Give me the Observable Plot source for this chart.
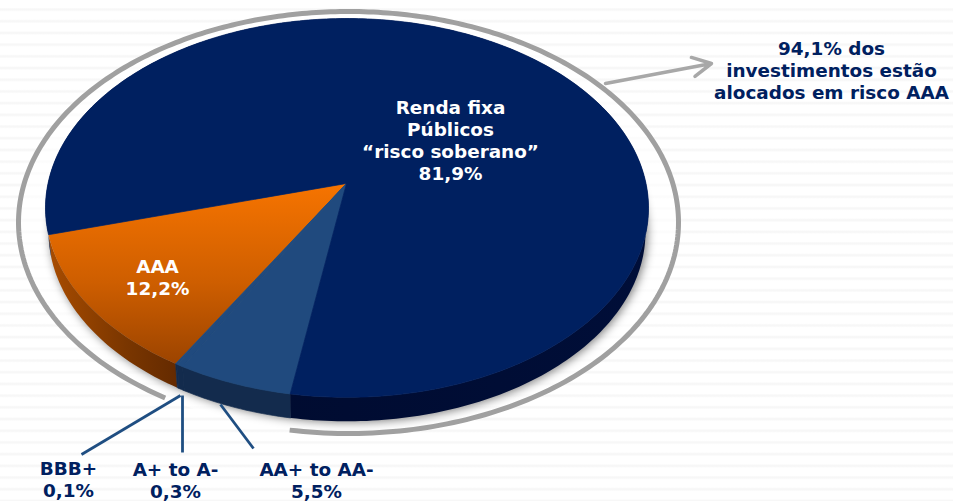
<!DOCTYPE html>
<html><head><meta charset="utf-8">
<script src="https://cdn.jsdelivr.net/npm/d3@7"></script>
<script src="https://cdn.jsdelivr.net/npm/@observablehq/plot@0.6"></script>
<style>
html,body{margin:0;padding:0;background:#fff}
svg{display:block;background:repeating-linear-gradient(180deg,#fff 0,#fff 7.5px,#f7f7f7 9px,#f7f7f7 10px,#fff 11.7px)}
</style></head><body><div id="chart"></div>
<script>
const categories = ["Renda fixa Públicos", "AAA", "BBB+", "A+ to A-", "AA+ to AA-"];
const shares = [81.9, 12.2, 0.1, 0.3, 5.5];
const labelsInside = ["Renda fixa\nPúblicos\n“risco soberano”\n81,9%", "AAA\n12,2%"];
const labelsBelow = ["BBB+\n0,1%", "A+ to A-\n0,3%", "AA+ to AA-\n5,5%"];
const note = "94,1% dos\ninvestimentos estão\nalocados em risco AAA";

const W = 953, H = 501;
const disc = {cx: 346.5, cy: 207.4, rx: 301.5, ry: 189.4};
const ring = {cx: 348, cy: 222, rx: 330, ry: 211};
const apex = {x: 346, y: 183};
const depth = 24, wallNarrow = 0.99;
const startDeg = 195.3; // where AAA's edge leaves the apex, counter-clockwise on screen
const topFill = {"Renda fixa Públicos":"#002060","AAA":"url(#orangeTop)","BBB+":"#204a7e","A+ to A-":"#204a7e","AA+ to AA-":"#204a7e"};
const wallFill = {"Renda fixa Públicos":"url(#navyWall)","AAA":"url(#orangeWall)","BBB+":"#132b4d","A+ to A-":"#132b4d","AA+ to AA-":"#132b4d"};

// angles: AAA, BBB+, A, AA, then the sovereign slice closing the circle
const order = [1, 2, 3, 4, 0];
let acc = startDeg;
const slices = order.map(i => {
  const a0 = acc; acc += shares[i] * 3.6;
  return {name: categories[i], a0, a1: acc};
});

function rim(deg, e) {
  const t = deg * Math.PI / 180;
  const dx = Math.cos(t) * disc.rx, dy = -Math.sin(t) * disc.ry;
  const ox = (apex.x - e.cx) / e.rx, oy = (apex.y - e.cy) / e.ry;
  const ux = dx / e.rx, uy = dy / e.ry;
  const a = ux*ux + uy*uy, b = 2*(ox*ux + oy*uy), c = ox*ox + oy*oy - 1;
  const s = (-b + Math.sqrt(b*b - 4*a*c)) / (2*a);
  return {x: apex.x + s*dx, y: apex.y + s*dy};
}
function arc(a0, a1, e) {
  const n = Math.max(2, Math.ceil(Math.abs(a1 - a0)));
  return d3.range(n + 1).map(i => rim(a0 + (a1 - a0) * i / n, e));
}
const lower = p => ({x: disc.cx + (p.x - disc.cx) * wallNarrow, y: p.y + depth});
const topPolys = slices.map(s => ({s, pts: [apex, ...arc(s.a0, s.a1, disc), apex]}));
const wallPolys = slices.map(s => {
  const outer = arc(s.a0, s.a1, disc);
  return {s, pts: [...outer, ...outer.slice().reverse().map(lower), outer[0]]};
});
const aaa = slices[0], aa = slices[3];
const ringPts = arc(aa.a1 + 1.3, aaa.a1 + 360 + 2.8, ring);

const defsMark = () => {
  const svgNS = "http://www.w3.org/2000/svg";
  const defs = document.createElementNS(svgNS, "defs");
  const grad = (id, x2, y2, stops) => {
    const g = document.createElementNS(svgNS, "linearGradient");
    g.setAttribute("id", id); g.setAttribute("x1", 0); g.setAttribute("y1", 0);
    g.setAttribute("x2", x2); g.setAttribute("y2", y2);
    stops.forEach(([o, c]) => {
      const st = document.createElementNS(svgNS, "stop");
      st.setAttribute("offset", o); st.setAttribute("stop-color", c); g.appendChild(st);
    });
    defs.appendChild(g);
  };
  grad("orangeTop", 0, 1, [[0, "#f67400"], [0.55, "#ce5e00"], [1, "#9c4400"]]);
  grad("orangeWall", 1, 0, [[0, "#a84c00"], [0.6, "#7a3600"], [1, "#642a00"]]);
  grad("navyWall", 1, 0, [[0, "#000a2c"], [1, "#000e38"]]);
  return defs;
};

const fillLine = (pts, fill, extra = {}) => Plot.line(pts, {x: "x", y: "y", fill, stroke: "none", curve: "linear", ...extra});
// solid slices get a hairline of their own colour so neighbours show no seam
const sliceMark = (pts, fill) => fillLine(pts, fill, fill.startsWith("url") ? {} : {stroke: fill, strokeWidth: 0.7});
const bold = {fontFamily: "'DejaVu Sans', Verdana, sans-serif", fontWeight: "bold", fontSize: 18.4, lineHeight: 22 / 18.4};
const ink = "#00205f";
const belowPts = [
  {text: labelsBelow[0], x: 68, y: 478, x1: 180, y1: 395, x2: 81, y2: 454},
  {text: labelsBelow[1], x: 175, y: 479.5, x1: 182, y1: 395, x2: 182, y2: 452},
  {text: labelsBelow[2], x: 316, y: 479.5, x1: 220, y1: 404, x2: 253, y2: 448}
];

const plot = Plot.plot({
  width: W, height: H,
  margin: 0,
  x: {domain: [0, W], range: [0, W], axis: null},
  y: {domain: [0, H], range: [0, H], axis: null},
  marks: [
    defsMark,
    // pale interior of the ring, then the pie's soft shadow
    fillLine(arc(0, 360, ring), "#fff", {fillOpacity: 0.6}),
    fillLine(arc(0, 360, disc).map(lower), "#000", {imageFilter: "blur(5px)", fillOpacity: 0.5, dx: 2, dy: 1}),
    Plot.line(ringPts, {x: "x", y: "y", stroke: "#a0a0a0", strokeWidth: 5, curve: "linear", strokeLinecap: "butt"}),
    ...wallPolys.map(w => sliceMark(w.pts, wallFill[w.s.name])),
    ...topPolys.map(t => sliceMark(t.pts, topFill[t.s.name])),
    Plot.arrow([0], {x1: () => 605, y1: () => 83, x2: () => 711, y2: () => 63, stroke: "#a8a8a8", strokeWidth: 3.5, bend: 0, headLength: 9, headAngle: 55}),
    Plot.link(belowPts, {x1: "x1", y1: "y1", x2: "x2", y2: "y2", stroke: "#1f4e82", strokeWidth: 2.8}),
    Plot.text([labelsInside[0]], {x: () => 450, y: () => 139.5, text: d => d, fill: "#fff", ...bold}),
    Plot.text([labelsInside[1]], {x: () => 157, y: () => 276.5, text: d => d, fill: "#fff", ...bold}),
    Plot.text([note], {x: () => 831, y: () => 69, text: d => d, fill: ink, ...bold}),
    Plot.text(belowPts, {x: "x", y: "y", text: "text", fill: ink, ...bold})
  ]
});
document.getElementById("chart").appendChild(plot);
</script></body></html>
